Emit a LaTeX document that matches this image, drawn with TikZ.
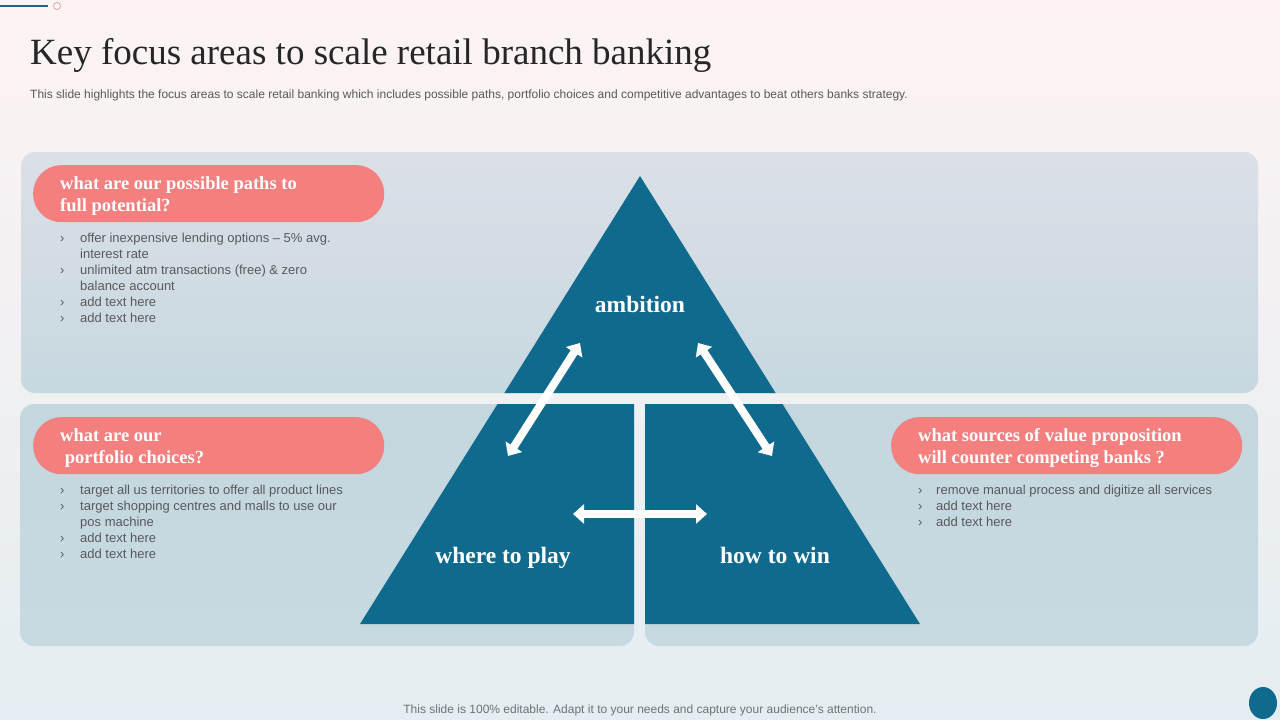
\documentclass[tikz,border=0pt]{standalone}
\usepackage{fontspec}
\setmainfont{Liberation Serif}
\setsansfont{Liberation Sans}
\usepackage{xcolor}
\definecolor{bgtop}{HTML}{FDF3F3}
\definecolor{bgbot}{HTML}{E4EDF1}
\definecolor{pantop}{HTML}{DBE0E6}
\definecolor{panbot}{HTML}{C7D8E0}
\definecolor{lowtop}{HTML}{C4D7DF}
\definecolor{lowbot}{HTML}{C7DAE2}
\definecolor{pyrblue}{HTML}{0F6A8D}
\definecolor{markteal}{HTML}{1D6482}
\definecolor{pillred}{HTML}{F47F7F}
\definecolor{titlegray}{HTML}{262626}
\definecolor{txtgray}{HTML}{595959}
\definecolor{ringpink}{HTML}{E59AA6}
\usepackage{tikz}
\usetikzlibrary{positioning,arrows.meta}

\begin{document}
\begin{tikzpicture}[x=1pt, y=-1pt, node distance=9pt,
                   panel/.style={rounded corners=14pt},
                   pill/.style={fill=pillred, rounded corners=28pt, minimum width=351pt,
                                minimum height=57pt, inner sep=0pt, anchor=north west},
                   ques/.style={font=\fontsize{18.5}{22}\selectfont\bfseries, text=white,
                                align=left, inner sep=0pt},
                   bul/.style={font=\sffamily\fontsize{13}{16}\selectfont, text=txtgray,
                               align=left, inner sep=0pt},
                   lbl/.style={font=\fontsize{23.5}{26}\selectfont\bfseries, text=white,
                               inner sep=0pt, anchor=base},
                   dbl/.style={draw=white, line width=8pt,
                               {Triangle[width=19pt,length=11pt]}-{Triangle[width=19pt,length=11pt]}}]
    \useasboundingbox (0,0) rectangle (1280,720);
    \shade[top color=bgtop, bottom color=bgbot] (0,0) rectangle (1280,720);
    % header mark
    \draw[markteal, line width=2.5pt] (0,6) -- (48,6);
    \draw[ringpink, fill=white, line width=0.8pt] (57,6) circle (3.5);
    \node[font=\fontsize{37}{40}\selectfont, text=titlegray, anchor=base west, inner sep=0pt]
        (title) at (30,64) {Key focus areas to scale retail branch banking};
    \node[font=\sffamily\fontsize{12}{14}\selectfont, text=txtgray, anchor=base west, inner sep=0pt]
        (sub) at (30,98) {This slide highlights the focus areas to scale retail banking which includes possible paths, portfolio choices and competitive advantages to beat others banks strategy.};
    % panels
    \shade[panel, top color=pantop, bottom color=panbot] (21,152) rectangle (1258,393);
    \shade[panel, top color=lowtop, bottom color=lowbot] (20,404) rectangle (634,646);
    \shade[panel, top color=lowtop, bottom color=lowbot] (645,404) rectangle (1258,646);
    % pyramid, cut by the gaps between panels
    \begin{scope}
        \clip (21,152) rectangle (1258,393) (20,404) rectangle (634,646) (645,404) rectangle (1258,646);
        \fill[pyrblue] (640,176) -- (920,624) -- (360,624) -- cycle;
    \end{scope}
    \node[lbl] (amb) at (640,312) {ambition};
    \node[lbl] (wtp) at (503,563) {where to play};
    \node[lbl] (htw) at (775,563) {how to win};
    \coordinate (la) at (580,343);
    \coordinate (lb) at (508,456);
    \coordinate (ra) at (698,343);
    \coordinate (rb) at (772,456);
    \coordinate (ha) at (573,514);
    \coordinate (hb) at (707,514);
    \draw[dbl] (la) -- (lb);
    \draw[dbl] (ra) -- (rb);
    \draw[dbl] (ha) -- (hb);
    % questions
    \node[pill] (q1) at (33,165) {};
    \node[ques, right=27pt of q1.west, anchor=west, yshift=-2pt] (t1) {what are our possible paths to\\full potential?};
    \node[bul, below right=9pt and 27pt of q1.south west] (b1) {%
        \begin{tabular}{@{}p{20pt}@{}l@{}}
        › & offer inexpensive lending options -- 5\% avg.\\
          & interest rate\\
        › & unlimited atm transactions (free) \& zero\\
          & balance account\\
        › & add text here\\
        › & add text here
        \end{tabular}};
    \node[pill] (q2) at (33,417) {};
    \node[ques, right=27pt of q2.west, anchor=west, yshift=-2pt] (t2) {what are our\\\ portfolio choices?};
    \node[bul, below right=9pt and 27pt of q2.south west] (b2) {%
        \begin{tabular}{@{}p{20pt}@{}l@{}}
        › & target all us territories to offer all product lines\\
        › & target shopping centres and malls to use our\\
          & pos machine\\
        › & add text here\\
        › & add text here
        \end{tabular}};
    \node[pill] (q3) at (891,417) {};
    \node[ques, right=27pt of q3.west, anchor=west, yshift=-2pt] (t3) {what sources of value proposition\\will counter competing banks ?};
    \node[bul, below right=9pt and 27pt of q3.south west] (b3) {%
        \begin{tabular}{@{}p{18pt}@{}l@{}}
        › & remove manual process and digitize all services\\
        › & add text here\\
        › & add text here
        \end{tabular}};
    % footer
    \node[font=\sffamily\fontsize{12}{14}\selectfont, text=txtgray!85, anchor=base, inner sep=0pt]
        (foot) at (640,713) {This slide is 100\% editable. Adapt it to your needs and capture your audience's attention.};
    \fill[pyrblue] (1263,703) ellipse (14 and 16);
\end{tikzpicture}
\end{document}
